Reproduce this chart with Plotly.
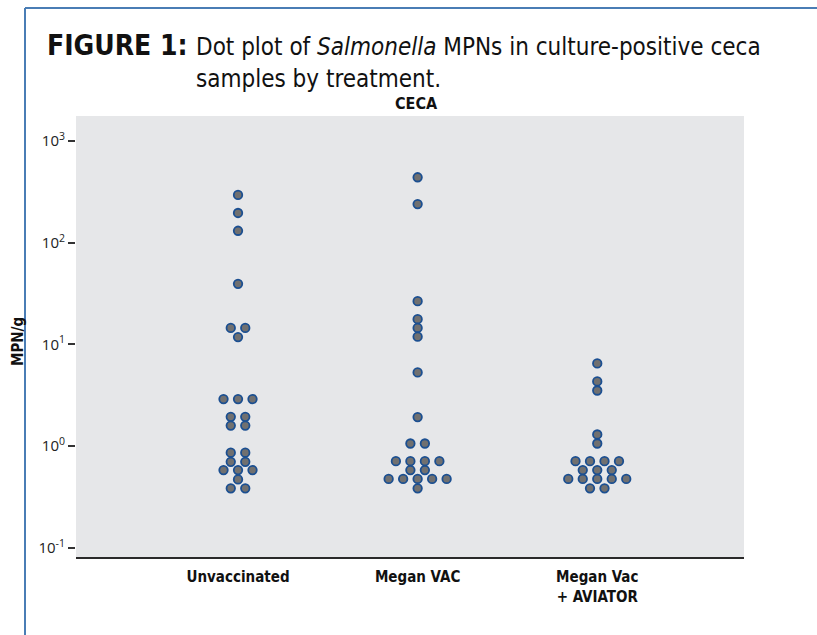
import plotly.graph_objects as go
from collections import Counter

categories = ["Unvaccinated", "Megan VAC", "Megan Vac<br>+ AVIATOR"]

unvaccinated = [295, 196, 131, 39.4, 14.5, 14.5, 11.8, 2.9, 2.9, 2.9,
                1.94, 1.94, 1.59, 1.59, 0.86, 0.86, 0.70, 0.70,
                0.58, 0.58, 0.58, 0.47, 0.384, 0.384]
megan_vac = [440, 240, 26.6, 17.7, 14.5, 11.9, 5.3, 1.93, 1.06, 1.06,
             0.71, 0.71, 0.71, 0.71, 0.58, 0.58,
             0.475, 0.475, 0.475, 0.475, 0.475, 0.384]
megan_aviator = [6.5, 4.32, 3.52, 1.30, 1.06, 0.71, 0.71, 0.71, 0.71,
                 0.58, 0.58, 0.58, 0.475, 0.475, 0.475, 0.475, 0.475,
                 0.384, 0.384]

tick_vals = [0.1, 1, 10, 100, 1000]
tick_text = ["10<sup>-1</sup>", "10<sup>0</sup>", "10<sup>1</sup>", "10<sup>2</sup>", "10<sup>3</sup>"]

W, H = 817, 635
L, R, T, B = 76, 73, 116, 78
PW, PH = W - L - R, H - T - B


def px2x(px):
    return (px - L) / PW


def py2y(py):
    return (H - B - py) / PH


STEP = 0.0807  # horizontal spacing of dots in a row (category units)


def swarm(values, center):
    counts = Counter(values)
    seen = Counter()
    xs = []
    for v in values:
        n = counts[v]
        i = seen[v]
        seen[v] += 1
        xs.append(center + (i - (n - 1) / 2) * STEP)
    return xs


fig = go.Figure()
for idx, vals in enumerate([unvaccinated, megan_vac, megan_aviator]):
    fig.add_trace(go.Scatter(
        x=swarm(vals, idx), y=vals, mode="markers",
        marker=dict(size=8.5, color="#707070",
                    line=dict(color="#1b4f91", width=1.8)),
        showlegend=False, hoverinfo="y"))

cond = "DejaVu Sans Condensed, sans-serif"
frame_col = "#4a7db5"

fig.update_layout(
    width=W, height=H,
    margin=dict(l=L, r=R, t=T, b=B, pad=0),
    paper_bgcolor="white",
    plot_bgcolor="#e6e7e9",
    xaxis=dict(range=[-0.902, 2.817], tickvals=[0, 1, 2], ticktext=categories,
               showgrid=False, zeroline=False, showline=True,
               linecolor="#2a2a2a", linewidth=2, ticks="",
               ticklabelstandoff=5,
               tickfont=dict(family=cond, size=15, color="#111", weight="bold"),
               fixedrange=True),
    yaxis=dict(type="log", range=[-1.091, 3.246], tickvals=tick_vals,
               ticktext=tick_text, showgrid=False, zeroline=False,
               showline=False, ticks="outside", ticklen=7, tickwidth=1.5,
               tickcolor="#333", tickfont=dict(family="Open Sans, sans-serif", size=15, color="#222"),
               fixedrange=True),
    shapes=[
        dict(type="line", xref="paper", yref="paper",
             x0=px2x(25), x1=px2x(817), y0=py2y(8), y1=py2y(8),
             line=dict(color=frame_col, width=2)),
        dict(type="line", xref="paper", yref="paper",
             x0=px2x(25), x1=px2x(25), y0=py2y(8), y1=py2y(640),
             line=dict(color=frame_col, width=2)),
    ],
    annotations=[
        dict(text="<b>FIGURE 1:</b>", x=px2x(45), y=py2y(46), xref="paper", yref="paper",
             xanchor="left", yanchor="middle", showarrow=False,
             font=dict(family=cond, size=28, color="#111")),
        dict(text="Dot plot of <i>Salmonella</i> MPNs in culture-positive ceca",
             x=px2x(194), y=py2y(47), xref="paper", yref="paper",
             xanchor="left", yanchor="middle", showarrow=False,
             font=dict(family=cond, size=24, color="#111")),
        dict(text="samples by treatment.",
             x=px2x(194), y=py2y(79), xref="paper", yref="paper",
             xanchor="left", yanchor="middle", showarrow=False,
             font=dict(family=cond, size=24, color="#111")),
        dict(text="<b>CECA</b>", x=px2x(416), y=py2y(103), xref="paper", yref="paper",
             xanchor="center", yanchor="middle", showarrow=False,
             font=dict(family=cond, size=16, color="#111")),
        dict(text="<b>MPN/g</b>", x=px2x(18), y=py2y(342), xref="paper", yref="paper",
             xanchor="center", yanchor="middle", showarrow=False, textangle=-90,
             font=dict(family=cond, size=15, color="#111")),
    ],
)

fig.write_html("out.html", config={"displayModeBar": False},
               post_script=["document.body.style.margin='0';"])
